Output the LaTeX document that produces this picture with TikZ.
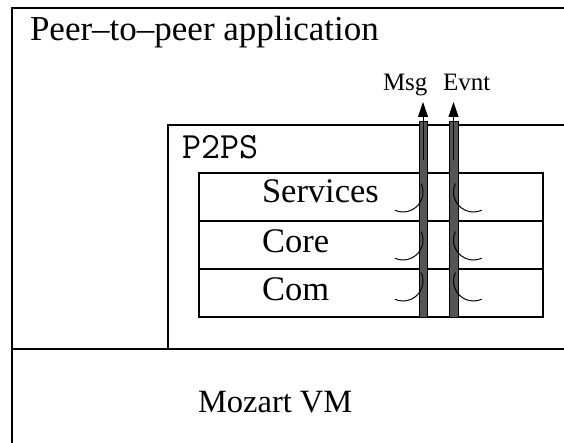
\documentclass[tikz,border=0pt]{standalone}
\usepackage{fontspec}
\setmainfont{Liberation Serif}
\usetikzlibrary{arrows.meta}
\definecolor{bargray}{RGB}{85,85,85}
\begin{document}
\begin{tikzpicture}[x=1pt,y=-1pt,
  frame/.style={draw=black,line width=1.1pt},
  txt/.style={anchor=base west,inner sep=0pt,outer sep=0pt},
  bar/.style={draw=black,fill=bargray,line width=0.6pt},
  hook/.style={draw=black,line width=1pt},
  flow/.style={draw=black,line width=0.8pt,-{Triangle[length=15pt,width=10pt]}}]
\useasboundingbox (0,0) rectangle (564,443);
\begin{scope}
\clip (0,0) rectangle (564,443);
% outer application box
\draw[frame] (12,460) -- (12,8) -- (600,8);
\draw[frame] (12,349) -- (600,349);
% P2PS box
\draw[frame] (168,349) -- (168,125) -- (600,125);
% layer stack
\draw[frame] (199,173) rectangle (543,317);
\draw[frame] (199,221) -- (543,221);
\draw[frame] (199,269) -- (543,269);
\end{scope}
% texts
\node[txt,font=\fontsize{35}{40}\selectfont] (app) at (30,41) {Peer--to--peer application};
\node[txt,font=\ttfamily\fontsize{37}{42}\selectfont] (p2ps) at (182,159) {P2PS};
\node[txt,font=\fontsize{34.5}{40}\selectfont] (serv) at (262,203) {Services};
\node[txt,font=\fontsize{34.5}{40}\selectfont] (core) at (262,252.5) {Core};
\node[txt,font=\fontsize{34.5}{40}\selectfont] (com) at (262,300) {Com};
\node[txt,font=\fontsize{32.5}{38}\selectfont] (vm) at (198,412) {Mozart VM};
\node[txt,font=\fontsize{25}{30}\selectfont] (msg) at (383,91) {Msg};
\node[txt,font=\fontsize{25}{30}\selectfont] (evnt) at (443,91) {Evnt};
% bars
\draw[bar] (419,121) rectangle (427,317);
\draw[bar] (449,121) rectangle (458,317);
\coordinate (ms) at (423,160);
\coordinate (mt) at (423,102);
\coordinate (es) at (453.5,160);
\coordinate (et) at (453.5,102);
\draw[flow] (ms) -- (mt);
\draw[flow] (es) -- (et);
% hooks
\foreach \cy in {192,240,281}{
  \draw[hook] (403,\cy) ++(-25:20) arc[start angle=-25,end angle=114,radius=20];
  \draw[hook] (473.5,\cy) ++(205:20) arc[start angle=205,end angle=66,radius=20];
}
\end{tikzpicture}
\end{document}
